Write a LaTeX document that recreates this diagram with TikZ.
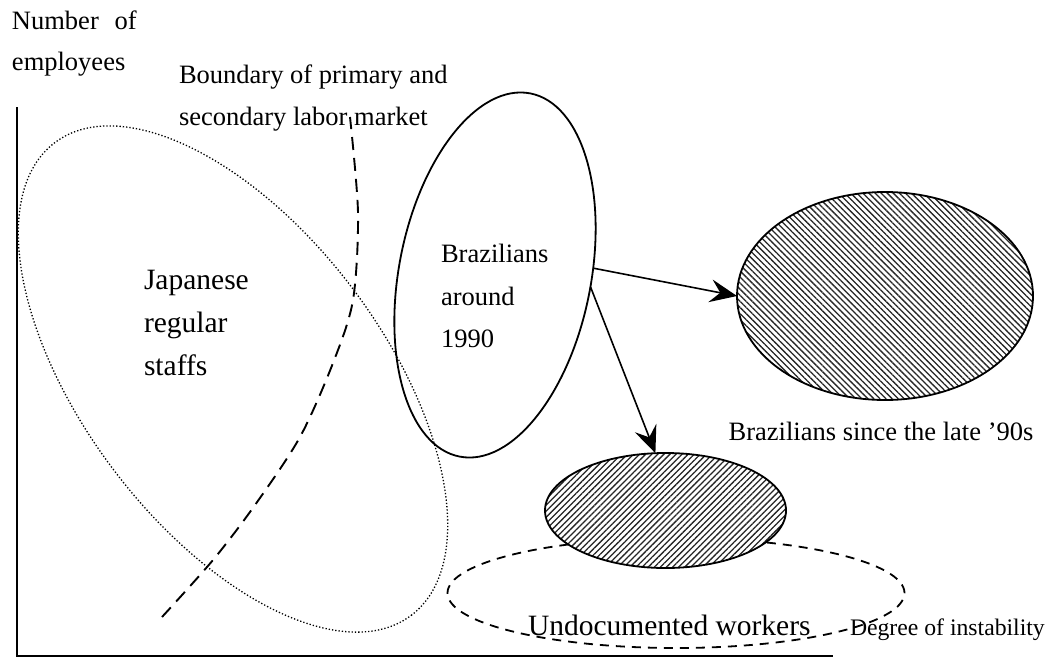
\documentclass[tikz,border=0pt]{standalone}
\usepackage{fontspec}
\setmainfont{Liberation Serif}
\usetikzlibrary{shapes.geometric,arrows.meta,patterns.meta}
\begin{document}
\begin{tikzpicture}[x=1pt,y=-1pt,
  every node/.style={inner sep=0pt, outer sep=0pt},
  txt/.style={anchor=base west, font=\fontsize{26.5}{30}\selectfont},
  bigtxt/.style={anchor=base west, font=\fontsize{29.5}{34}\selectfont},
  ell/.style={ellipse, draw, line width=1.8pt},
  dotell/.style={ellipse, draw, line width=1.3pt, dash pattern=on 1.3pt off 2pt},
  dashell/.style={ellipse, draw, line width=1.8pt, dash pattern=on 9pt off 7pt},
  hatchA/.style={ell, preaction={fill=white}, pattern color=black!85, pattern={Lines[angle=-45,distance=4.3pt,line width=1.3pt]}},
  hatchB/.style={ell, preaction={fill=white}, pattern color=black!85, pattern={Lines[angle=45,distance=4.3pt,line width=1.3pt]}},
  arr/.style={line width=1.6pt, -{Stealth[length=27pt,width=23pt,inset=10pt]}},
  axis/.style={line width=2.6pt},
  bound/.style={line width=1.9pt, dash pattern=on 13pt off 8pt}]
\useasboundingbox (0,0) rectangle (1052,662);

% axes
\coordinate (ytop) at (17,107);
\coordinate (orig) at (17,656);
\coordinate (xend) at (833,656);
\draw[axis] (ytop) -- (orig) -- (xend);

% Japanese regular staffs (dotted)
\node[dotell, minimum width=592pt, minimum height=300pt, rotate=-53] (jp) at (233,379) {};

% boundary of primary and secondary labor market
\draw[bound] plot[smooth] coordinates {(162,617) (213,560) (255,505) (300,437) (333,363) (353,300) (358,213) (350,117)};

% Brazilians around 1990
\node[ell, minimum width=192pt, minimum height=370pt, rotate=-11] (b90) at (495,275) {};

% Brazilians since the late 90s
\node[hatchA, minimum width=296pt, minimum height=208pt] (late) at (885,296) {};

% undocumented workers
\node[dashell, minimum width=457pt, minimum height=110pt] (undoc) at (676,593) {};
\node[hatchB, minimum width=241pt, minimum height=115pt] (small) at (665.5,510.5) {};

% arrows
\draw[arr] (b90.15) -- (late.west);
\draw[arr] (b90.4) -- (small.100);

% texts
\node[txt] (t1) at (12,29) {Number\hspace{0.6em}of};
\node[txt] (t2) at (12,70) {employees};
\node[txt] (t3) at (179,83) {Boundary of primary and};
\node[txt] (t4) at (179,125) {secondary labor market};
\node[bigtxt] (j1) at (144,289) {Japanese};
\node[bigtxt] (j2) at (144,332) {regular};
\node[bigtxt] (j3) at (144,375) {staffs};
\node[txt] (b1) at (441,262) {Brazilians};
\node[txt] (b2) at (441,305) {around};
\node[txt] (b3) at (441,347) {1990};
\node[txt, anchor=base] (lt) at (881,440) {Brazilians since the late ’90s};
\node[bigtxt] (ut) at (528,635) {Undocumented workers};
\node[anchor=base west, font=\fontsize{23.7}{28}\selectfont] (dx) at (850,635) {Degree of instability};
\end{tikzpicture}
\end{document}
